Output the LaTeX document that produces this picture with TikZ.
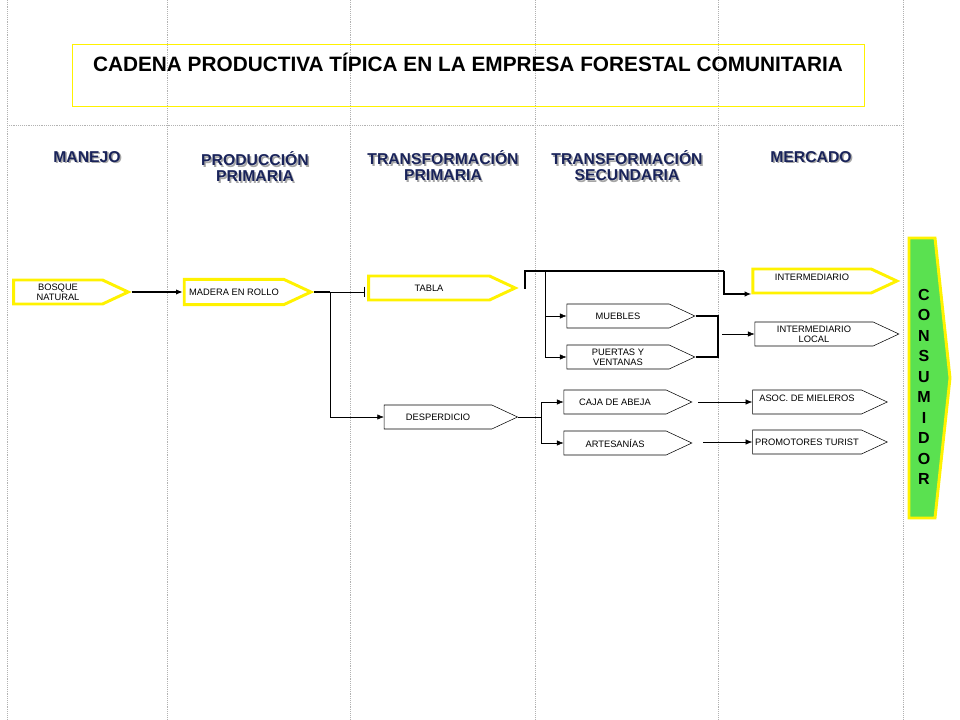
\documentclass[tikz,border=0pt]{standalone}
\usepackage{fontspec}
\setmainfont{Liberation Sans}
\usetikzlibrary{shapes.symbols, arrows.meta}
\definecolor{navy}{RGB}{25,35,90}
\definecolor{conso}{RGB}{90,225,80}
\begin{document}
\begin{tikzpicture}[x=0.75pt, y=-0.75pt,
  font=\fontsize{7}{7.5}\selectfont,
  paso/.style={signal, signal to=east, signal pointer angle=50, draw=black, thin, inner sep=0pt, align=center},
  amarillo/.style={paso, draw=yellow, line width=2.2pt},
  flecha/.style={-{Latex[length=5pt,width=4pt]}, thin},
  grueso/.style={line width=1.3pt},
  guia/.style={gray!60, densely dotted, thin},
  cabeza/.style={font=\bfseries\fontsize{11.8}{12}\selectfont, text=navy, align=center}]

\useasboundingbox (0,0) rectangle (960,720);

% columnas
\foreach \x in {7,167,350,535,718,903}
  \draw[guia] (\x,0) -- (\x,720);
\draw[guia] (7,125) -- (903,125);

% titulo
\draw[yellow, thin] (72,44) rectangle (864,106);
\node[font=\bfseries\fontsize{15.6}{16}\selectfont] (titulo) at (468,62)
  {CADENA PRODUCTIVA TÍPICA EN LA EMPRESA FORESTAL COMUNITARIA};

% encabezados
\foreach \x/\y/\t/\n in {87/157/MANEJO/manejo, 255/167/{PRODUCCIÓN\\PRIMARIA}/prod,
    443/166/{TRANSFORMACIÓN\\PRIMARIA}/tprim, 627/166/{TRANSFORMACIÓN\\SECUNDARIA}/tsec,
    811/157/MERCADO/merc} {
  \node[cabeza, text=gray!70] at (\x+1.5,\y+1.5) {\t};
  \node[cabeza] (\n) at (\x,\y) {\t};
}

% pasos
\node[amarillo, minimum width=86pt, minimum height=18pt] (bosque) at (58,292) {BOSQUE\\NATURAL};
\node[amarillo, minimum width=95pt, minimum height=19pt] (madera) at (234,292) {MADERA EN ROLLO};
\node[amarillo, minimum width=110pt, minimum height=18pt] (tabla) at (429,288) {TABLA};
\node[paso, minimum width=100pt, minimum height=18pt] (desp) at (438,417) {DESPERDICIO};
\node[paso, minimum width=96pt, minimum height=18pt] (muebles) at (618,316) {MUEBLES};
\node[paso, minimum width=96pt, minimum height=18pt] (puertas) at (618,357) {PUERTAS Y\\VENTANAS};
\node[paso, minimum width=96pt, minimum height=18pt] (caja) at (615,402) {CAJA DE ABEJA};
\node[paso, minimum width=96pt, minimum height=18pt] (artes) at (615,443) {ARTESANÍAS};
\node[amarillo, minimum width=108pt, minimum height=18pt, text depth=6pt] (inter) at (812,281) {INTERMEDIARIO};
\node[paso, minimum width=108pt, minimum height=18pt] (local) at (814,334) {INTERMEDIARIO\\LOCAL};
\node[paso, minimum width=101pt, minimum height=18pt, text depth=6pt] (asoc) at (807,402) {ASOC. DE MIELEROS};
\node[paso, minimum width=101pt, minimum height=18pt] (promo) at (807,442) {PROMOTORES TURIST};

% consumidor
\draw[fill=conso, draw=yellow, line width=2.2pt] (909,238) -- (935,238) -- (950,378)
  -- (935,518) -- (909,518) -- cycle;
\node[font=\bfseries\fontsize{12}{15.4}\selectfont, align=center] (consumidor) at (924,387)
  {C\\O\\N\\S\\U\\M\\I\\D\\O\\R};

% conectores
\coordinate (r1) at (330,292);
\coordinate (t1) at (525,271);
\coordinate (t2) at (545,271);
\coordinate (m1) at (718,316);
\coordinate (d1) at (541,417);
\coordinate (i1) at (inter.west |- 0,294);
\draw[flecha, grueso] (bosque.east) -- (madera.west);
\draw[grueso] (madera.east) -- (r1);
\draw[thin, -{Bar[width=8pt]}] (r1) -- (365,292);
\draw[flecha] (r1) |- (desp.west);
\draw[grueso] (525,289) -- (t1) -- (724,271);
\draw[flecha, grueso] (724,271) |- (i1);
\draw[flecha] (t2) |- (muebles.west);
\draw[flecha] (t2) |- (puertas.west);
\draw[grueso] (muebles.east) -| (m1) |- (puertas.east);
\draw[flecha] (722,334) -- (local.west);
\draw (desp.east) -- (d1);
\draw[flecha] (d1) |- (caja.west);
\draw[flecha] (d1) |- (artes.west);
\draw[flecha] (698,402) -- (asoc.west);
\draw[flecha] (703,442) -- (promo.west);
\end{tikzpicture}
\end{document}
